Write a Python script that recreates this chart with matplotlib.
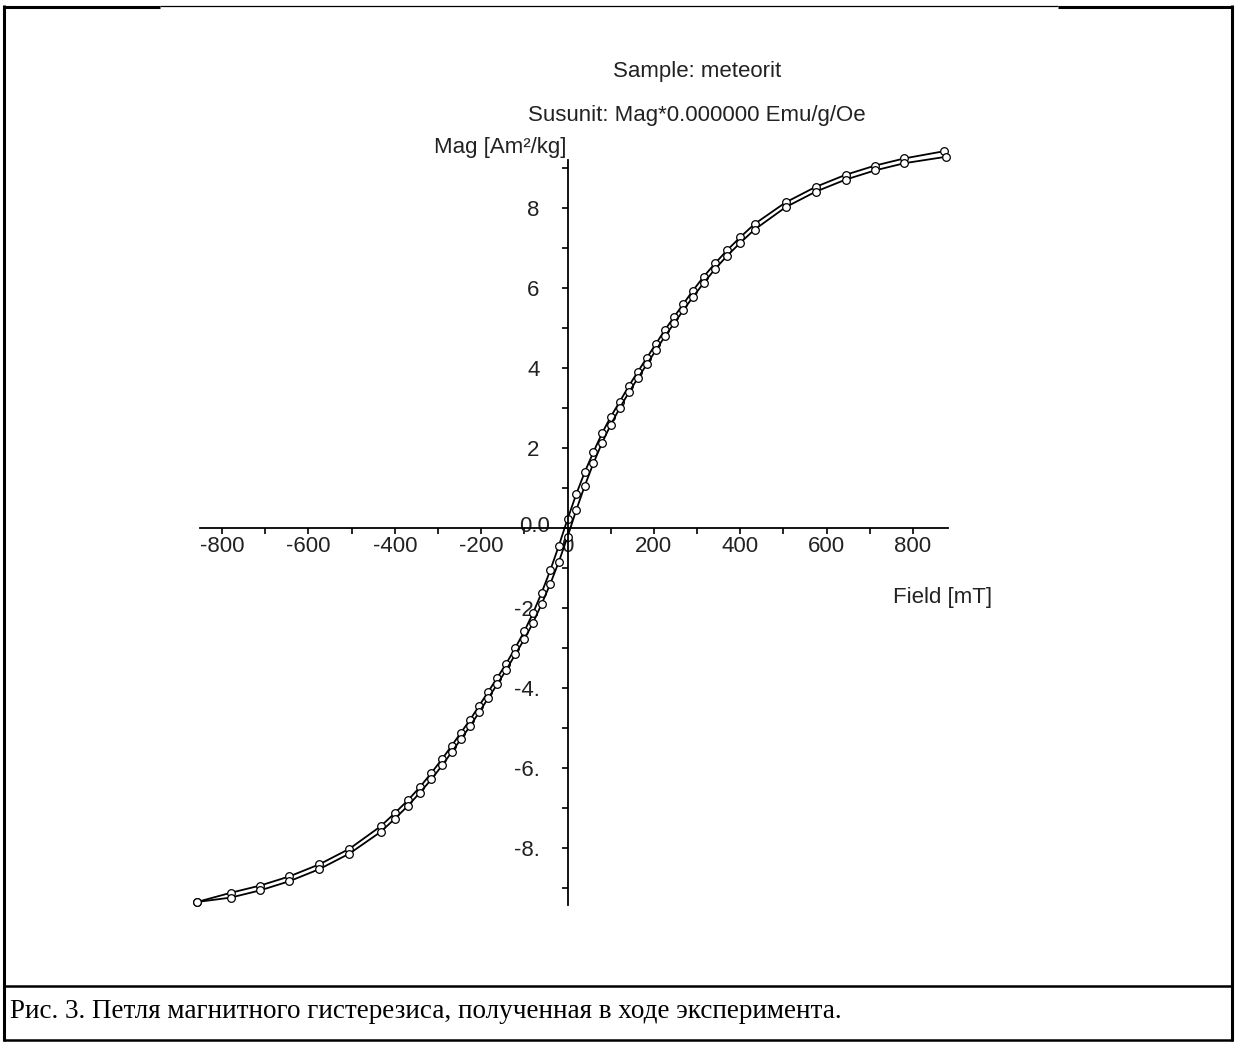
import matplotlib
matplotlib.use("Agg")
import matplotlib.pyplot as plt
from matplotlib.ticker import FixedLocator, MultipleLocator
from matplotlib.transforms import ScaledTranslation

plt.rcParams['font.family'] = ['Liberation Sans', 'DejaVu Sans']

# descending branch (from +H max down to -H max)
field_down = [872, 780, 712, 644, 575, 505, 433, 400, 370, 342,
              315, 290, 268, 247, 226, 205, 184, 163, 142, 121,
              100, 80, 60, 40, 20, 0, -20, -40, -60, -80,
              -100, -121, -142, -163, -184, -205, -226, -247, -268, -290,
              -315, -342, -370, -400, -433, -505, -575, -644, -712, -780,
              -858]
mag_down = [9.42, 9.24, 9.06, 8.83, 8.53, 8.14, 7.6, 7.27, 6.95, 6.62,
            6.28, 5.93, 5.6, 5.28, 4.96, 4.61, 4.26, 3.91, 3.55, 3.16,
            2.78, 2.37, 1.9, 1.4, 0.84, 0.22, -0.44, -1.06, -1.62, -2.13,
            -2.58, -3.0, -3.39, -3.75, -4.1, -4.45, -4.8, -5.12, -5.44, -5.77,
            -6.12, -6.48, -6.81, -7.13, -7.46, -8.02, -8.41, -8.71, -8.94, -9.12,
            -9.35]

# ascending branch (back from -H max to +H max)
field_up = [-858, -780, -712, -644, -575, -505, -433, -400, -370, -342,
            -315, -290, -268, -247, -226, -205, -184, -163, -142, -121,
            -100, -80, -60, -40, -20, 0, 20, 40, 60, 80,
            100, 121, 142, 163, 184, 205, 226, 247, 268, 290,
            315, 342, 370, 400, 433, 505, 575, 644, 712, 780,
            876]
mag_up = [-9.35, -9.24, -9.06, -8.83, -8.53, -8.14, -7.6, -7.27, -6.95, -6.62,
          -6.28, -5.93, -5.6, -5.28, -4.96, -4.61, -4.26, -3.91, -3.55, -3.16,
          -2.78, -2.37, -1.9, -1.4, -0.84, -0.22, 0.44, 1.06, 1.62, 2.13,
          2.58, 3.0, 3.39, 3.75, 4.1, 4.45, 4.8, 5.12, 5.44, 5.77,
          6.12, 6.48, 6.81, 7.13, 7.46, 8.02, 8.41, 8.71, 8.94, 9.12,
          9.28]

x_ticks = [-800, -600, -400, -200, 0, 200, 400, 600, 800]
x_ticklabels = ['-800', '-600', '-400', '-200', '0', '200', '400', '600', '800']
y_ticks = [-8, -6, -4, -2, 0, 2, 4, 6, 8]
y_ticklabels = ['-8.', '-6.', '-4.', '-2.', '0.0', '2', '4', '6', '8']

sample_title = 'Sample: meteorit'
susunit_title = 'Susunit: Mag*0.000000 Emu/g/Oe'
caption = 'Рис. 3. Петля магнитного гистерезиса, полученная в ходе эксперимента.'

W, H = 1235, 1050
fig = plt.figure(figsize=(W / 100, H / 100), dpi=100)

# page frame drawn in pixel units
bg = fig.add_axes([0, 0, 1, 1])
bg.set_xlim(0, W)
bg.set_ylim(H, 0)
bg.axis('off')
frame = dict(color='black', solid_capstyle='butt')
bg.plot([4, 4], [5, 1041], lw=2.2, **frame)
bg.plot([1232, 1232], [5, 1041], lw=2.2, **frame)
bg.plot([3, 160], [7, 7], lw=2.2, **frame)
bg.plot([160, 1058], [6, 6], lw=0.9, **frame)
bg.plot([1058, 1233], [7, 7], lw=2.2, **frame)
bg.plot([3, 1233], [986, 986], lw=1.8, **frame)
bg.plot([3, 1233], [1040, 1040], lw=1.8, **frame)
bg.text(10, 1012, caption, family=['Liberation Serif', 'DejaVu Serif'],
        fontsize=19.5, ha='left', va='center')

bg.text(697, 72, sample_title, fontsize=16, ha='center', va='center', color='#222222')
bg.text(697, 115, susunit_title, fontsize=16, ha='center', va='center', color='#222222')
bg.text(567, 147, 'Mag [Am²/kg]', fontsize=16, ha='right', va='center', color='#222222')
bg.text(893, 597, 'Field [mT]', fontsize=16, ha='left', va='center', color='#222222')

# plot area: spines cross at the origin
ax = fig.add_axes([200 / W, (H - 905) / H, 748 / W, 745 / H])
ax.patch.set_visible(False)
ax.set_xlim(-851, 881)
ax.set_ylim(-9.425, 9.2)
for side in ['top', 'right']:
    ax.spines[side].set_visible(False)
for side in ['left', 'bottom']:
    ax.spines[side].set_position(('data', 0))
    ax.spines[side].set_linewidth(1.3)

ax.xaxis.set_major_locator(FixedLocator(x_ticks))
ax.set_xticklabels(x_ticklabels)
ax.xaxis.set_minor_locator(MultipleLocator(100))
ax.yaxis.set_major_locator(FixedLocator(y_ticks))
ax.set_yticklabels(y_ticklabels)
ax.yaxis.set_minor_locator(MultipleLocator(1))
ax.tick_params(axis='both', which='both', direction='out', length=4, width=1.2)
ax.tick_params(axis='x', labelsize=16, pad=2, labelcolor='#222222')
ax.tick_params(axis='y', labelsize=16, pad=16, labelcolor='#222222')

# the "0.0" label sits a bit closer to the axis and slightly raised
zero_tick = ax.yaxis.get_major_ticks()[y_ticks.index(0)]
zero_tick.label1.set_transform(zero_tick.label1.get_transform()
                               + ScaledTranslation(0.1, 0.04, fig.dpi_scale_trans))

style = dict(color='black', lw=1.3, marker='o', ms=5.5, mfc='white', mec='black',
             mew=0.9, clip_on=False)
ax.plot(field_down, mag_down, **style)
ax.plot(field_up, mag_up, **style)

fig.savefig('out.png', dpi=100)
